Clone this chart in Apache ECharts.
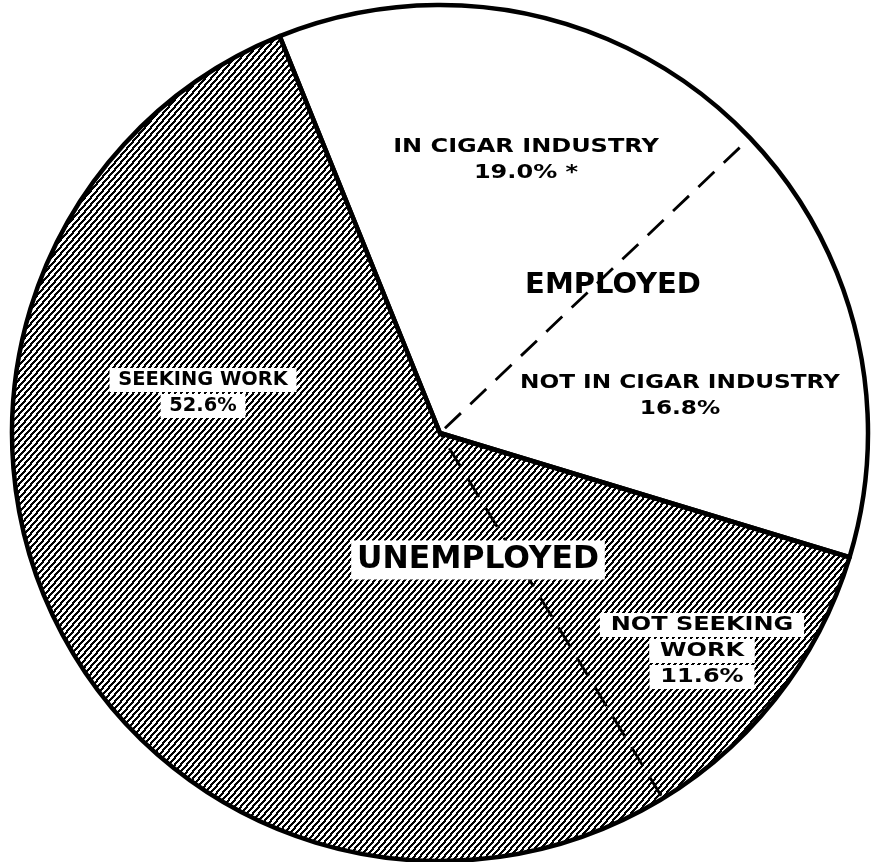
<!DOCTYPE html>
<html>
<head>
<meta charset="utf-8">
<script src="https://cdn.jsdelivr.net/npm/echarts@6/dist/echarts.min.js"></script>
<style>
  html, body { margin: 0; padding: 0; background: #fff; }
  #chart { width: 872px; height: 862px; }
</style>
</head>
<body>
<div id="chart"></div>
<script>
// data (share of group, %)
const categories = ['IN CIGAR INDUSTRY', 'NOT IN CIGAR INDUSTRY', 'NOT SEEKING\nWORK', 'SEEKING WORK'];
const values = [19.0, 16.8, 11.6, 52.6];
const notes = [' *', '', '', ''];
const groups = ['EMPLOYED', 'UNEMPLOYED'];
const groupOf = [0, 0, 1, 1];

// layout only
const CENTER = [440, 433];
const RADIUS = 428;
const START = 112;
const INK = '#000';
const FONT = '"DejaVu Sans", sans-serif';

// diagonal hatch for the unemployed part (lines rising to the right)
function hatch () {
  const n = 42;
  const c = document.createElement('canvas');
  c.width = n; c.height = n;
  const ctx = c.getContext('2d');
  ctx.fillStyle = '#fff';
  ctx.fillRect(0, 0, n, n);
  ctx.fillStyle = INK;
  for (let x = 0; x < n; x++) {
    for (let y = 0; y < n; y++) {
      if ((7 * x + 6 * y) % 42 < 20) ctx.fillRect(x, y, 1, 1);
    }
  }
  return c;
}
const hatchFill = { image: hatch(), repeat: 'repeat' };

const groupTotals = groups.map((g, gi) =>
  values.reduce((s, v, i) => groupOf[i] === gi ? s + v : s, 0));

// the dashed divider is the closing edge of the first slice in each group
const firstInGroup = values.map((v, i) => i === 0 || groupOf[i] !== groupOf[i - 1]);

const base = {
  type: 'pie',
  center: CENTER,
  radius: [0, RADIUS],
  startAngle: START,
  clockwise: true,
  silent: true,
  animation: false,
  label: { show: false },
  labelLine: { show: false },
  emphasis: { disabled: true }
};

// label positions (layout)
const labelPos = [[526, 160], [680, 396], [702, 651], [203, 393]];
const labelScale = [1.2, 1.16, 1.2, 0.97];
const groupPos = [[613, 285], [478, 560]];

const chart = echarts.init(document.getElementById('chart'), null, { renderer: 'canvas' });

const graphics = [];
categories.forEach((name, i) => {
  const pct = values[i].toFixed(1) + '%' + notes[i];
  const lines = (name + '\n' + pct).split('\n');
  const boxed = groupOf[i] === 1;
  graphics.push({
    type: 'text',
    x: labelPos[i][0],
    y: labelPos[i][1],
    scaleX: labelScale[i],
    z: 100,
    style: {
      text: lines.map(l => '{t|' + l + '}').join('\n'),
      align: 'center',
      verticalAlign: 'middle',
      textAlign: 'center',
      textVerticalAlign: 'middle',
      rich: {
        t: {
          fontFamily: FONT,
          fontWeight: 'bold',
          fontSize: 20,
          lineHeight: 26,
          fill: INK,
          color: INK,
          align: 'center',
          backgroundColor: boxed ? '#fff' : 'transparent',
          padding: boxed ? [2, 9, 2, 9] : 0
        }
      }
    }
  });
});
groups.forEach((g, gi) => {
  graphics.push({
    type: 'text',
    x: groupPos[gi][0],
    y: groupPos[gi][1],
    scaleX: gi === 0 ? 1.0 : 0.98,
    z: 100,
    style: {
      text: g,
      font: 'bold ' + (gi === 0 ? 29 : 32) + 'px ' + FONT,
      fill: INK,
      align: 'center',
      verticalAlign: 'middle',
      textAlign: 'center',
      textVerticalAlign: 'middle',
      backgroundColor: gi === 1 ? '#fff' : 'transparent',
      padding: gi === 1 ? [4, 6, 3, 6] : 0
    }
  });
});

chart.setOption({
  backgroundColor: '#fff',
  animation: false,
  series: [
    Object.assign({}, base, {
      name: 'fill',
      data: categories.map((n, i) => ({
        name: n,
        value: values[i],
        itemStyle: { color: groupOf[i] === 1 ? hatchFill : '#fff', borderWidth: 0 }
      }))
    }),
    Object.assign({}, base, {
      name: 'dividers',
      data: categories.map((n, i) => ({
        name: n,
        value: values[i],
        itemStyle: firstInGroup[i]
          ? { color: 'rgba(0,0,0,0)', borderColor: INK, borderWidth: 2.8, borderType: [22, 13] }
          : { color: 'rgba(0,0,0,0)', borderWidth: 0 }
      }))
    }),
    Object.assign({}, base, {
      name: 'groups',
      data: groups.map((g, gi) => ({
        name: g,
        value: groupTotals[gi],
        itemStyle: { color: 'rgba(0,0,0,0)', borderColor: INK, borderWidth: 4.5 }
      }))
    })
  ],
  graphic: graphics
});
</script>
</body>
</html>
